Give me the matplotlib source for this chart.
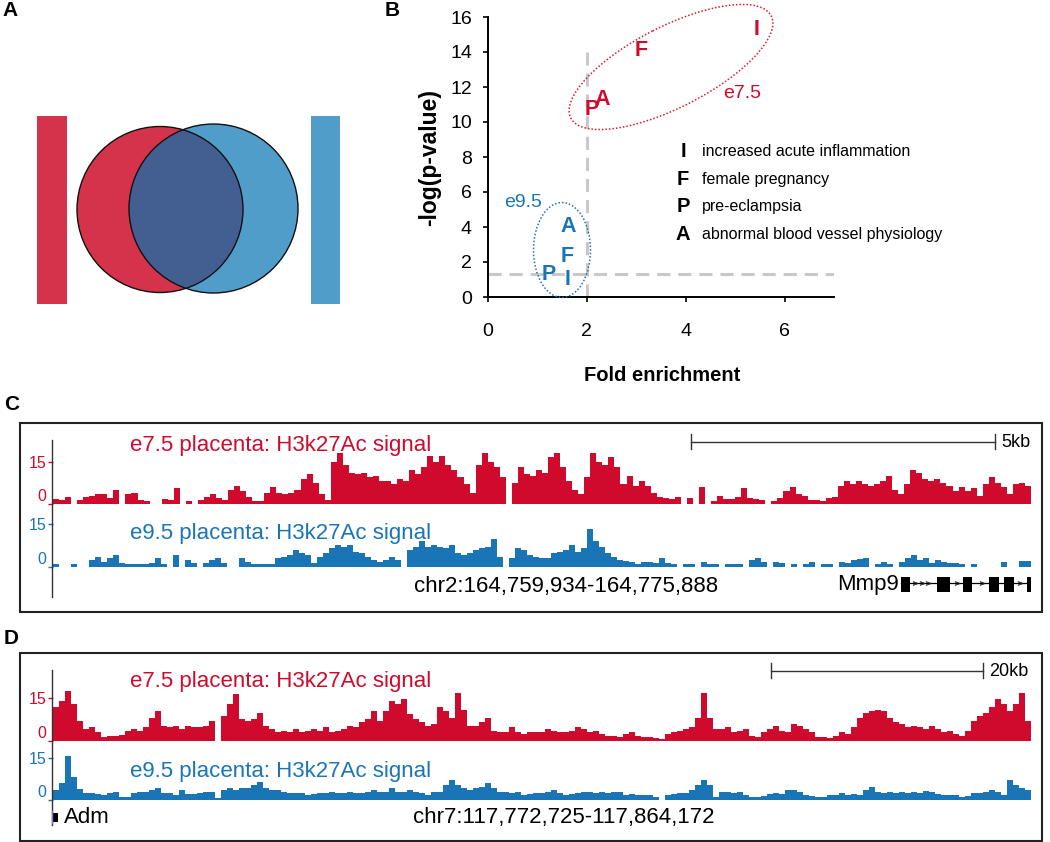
import numpy as np
import matplotlib
matplotlib.use('Agg')
import matplotlib.pyplot as plt
from matplotlib.patches import Circle, Rectangle, Ellipse

plt.rcParams['font.family'] = ['Liberation Sans', 'DejaVu Sans']

W, H = 1050, 842
RED = '#CF0A2C'
BLUE = '#1A75B6'
VENN_RED = '#D5334B'
VENN_BLUE = '#509DCA'
VENN_BOTH = '#435F92'

# ---- panel B: enrichment of phenotype terms ----
terms = ['I', 'F', 'P', 'A']
term_names = ['increased acute inflammation', 'female pregnancy',
              'pre-eclampsia', 'abnormal blood vessel physiology']
e75_fold = [5.43, 3.10, 2.10, 2.32]
e75_logp = [15.3, 14.1, 10.7, 11.3]
e95_fold = [1.60, 1.60, 1.22, 1.62]
e95_logp = [1.0, 2.3, 1.3, 4.0]
fold_cut = 2.0
logp_cut = 1.3

# ---- panels C/D: H3K27ac signal, 163 bins per window ----
c_region = 'chr2:164,759,934-164,775,888'
c_e75 = [1.8, 1.5, 2.6, 0, 1.5, 2.5, 3, 3.5, 3.5, 2,
         5, 0, 3.5, 4, 1.5, 1.2, 0, 0, 1.8, 1.5,
         5.5, 0, 1, 0, 1.5, 2.5, 3.5, 2, 1.5, 5,
         6.5, 4.5, 2.5, 1.2, 1.2, 4, 6, 4, 3.5, 4,
         5, 9, 10.5, 7.5, 3.5, 1.5, 15, 18, 14, 11,
         10.5, 11, 9.5, 10,
         8, 8, 7, 9, 8,
         12, 10.5, 13, 17, 15, 17, 14, 12, 9.5, 7,
         4, 14, 18, 15, 13, 9.5, 0, 7.5, 13, 10.5,
         10, 12, 11, 16.5, 18, 13, 8, 5, 3.5, 9.5,
         18, 15, 14, 16.5, 13, 7, 10, 6.5, 8,
         6.5, 4, 2.5, 2, 1.8, 2.5, 0, 2, 0,
         6, 0, 1.2, 3, 1.8, 1.8, 2.5, 5.5, 2.2, 1.8,
         1.5, 0, 1.2, 2.2, 4.5, 6, 3.5, 3, 1.4, 1.4,
         1.2, 2, 2.5, 6.5, 8, 7, 8, 7, 6.5, 7,
         8, 10, 5, 3.5, 7, 12, 11, 9, 8, 9,
         7.5, 6.5, 4.5, 6, 4.5, 5.5, 3, 7, 9.5, 7.5,
         6, 3.5, 7, 7.5, 6.5]
c_e95 = [1, 0, 0, 1, 0, 0, 2.4, 3.5, 1.8, 3,
         4, 1.2, 1, 1, 1, 1, 1.2, 3, 1, 0,
         4, 0, 2.5, 1.4, 0, 1.2, 2.4, 3, 1.2, 0,
         0, 3, 1.8, 1, 1, 1, 1, 3, 3.5, 4,
         6, 4.8, 4, 1.2, 3.5, 4.8, 6.5, 7.7, 7, 7.7,
         5.3, 4.8, 3.5, 2.4,
         1.8, 2.4, 3.5, 2.4, 0,
         6, 7, 9, 7, 7.7, 7, 6.5, 7.7, 4.8, 4,
         4.8, 6, 6.5, 7, 10, 3.5, 0, 3, 6.5, 6,
         4, 3.5, 3, 3, 4.8, 5.3, 6, 7.7, 5.3, 6.5,
         13.5, 9, 7, 4.8, 3.5, 2.4, 2, 1.8, 1, 1.8,
         1.8, 1.4, 3, 1.4, 1, 0, 1, 1, 0,
         1.8, 1, 1, 0, 1, 1, 1, 0, 2.4, 3,
         1.8, 0, 1.8, 1.2, 0, 1, 0, 1, 1.8, 0,
         1, 1, 0, 1.8, 1.4, 2.2, 2.6, 3, 0, 1,
         1.8, 1, 0, 1.8, 3, 4.2, 2.4, 3, 1.4, 2.4,
         1.8, 1.4, 1.4, 1, 0, 1, 0, 0, 0, 0,
         1.8, 0, 0, 2, 2]
c_gene = 'Mmp9'
c_exons = [(141.3, 1.5), (147.3, 2.2), (151.7, 1.4), (156.0, 1.6), (158.5, 1.7), (162.3, 0.7)]
c_chevrons = [143.7, 144.8, 145.9, 150.6, 154.8, 161.2]
c_scale = (106.3, 157.0, '5kb')

d_region = 'chr7:117,772,725-117,864,172'
d_e75 = [11.8, 14, 17.5, 13, 7, 4, 4.8, 3, 1.2, 1.8,
         1.8, 2, 3.5, 4, 3.5, 4.8, 8.2, 10.5, 5.3, 4.8,
         5.3, 4, 5.3, 4.8, 4.8, 5.3, 7, 0, 8.8, 13,
         16.5, 7.7, 7, 7.7, 10, 5.3, 4, 3, 3.5, 3,
         4, 3, 3.5, 4, 3.5, 4.8, 3, 3.5, 4, 5.3,
         4.8, 6.5, 7.7, 10.5,
         7, 10.5, 14, 13, 14.7,
         9.4, 7.7, 6.5, 5.3, 6, 11.8, 10.5, 8.2, 17, 11,
         5.3, 5.3, 6.5, 8.2, 3.5, 3, 3, 4.7, 3, 2.4,
         3, 3, 3, 4, 3.5, 3, 3, 3.5, 4.7, 4,
         3, 3.5, 2.4, 1.8, 1.8, 1.2, 2.4, 3, 1.8, 1.4,
         1.4, 1, 0.6, 2.4, 3, 3.5, 4, 4.7, 8.2,
         17, 8, 4, 4, 4.7, 3, 3.5, 4, 1.8, 1.2,
         3, 4, 5.3, 3.5, 3, 6, 5.3, 4, 3, 1.4,
         1.2, 1, 1.8, 3, 2.4, 4.7, 8.2, 10, 10.5, 11,
         10.5, 8.2, 6.5, 6, 4.7, 5.3, 4.7, 4, 5.3, 4,
         3, 3.5, 2.4, 1.8, 3.5, 7, 8.8, 10, 11.8, 14.7,
         13, 10.5, 13, 17, 7]
d_e95 = [3.5, 6, 15.5, 8.2, 4, 2.6, 2.4, 2.1, 1.8, 2.4,
         3, 1, 1.2, 2.4, 3, 3, 3.5, 4.1, 2.6, 2.4,
         1.8, 3.5, 2.1, 2.1, 2.6, 3, 3, 0.6, 3.5, 4.1,
         3.5, 4.1, 4.1, 5.3, 6.5, 4.1, 3.5, 3.5, 3, 2.4,
         2.6, 2.4, 1.8, 2.1, 2.6, 2.4, 3, 2.4, 2.6, 3,
         2.4, 2.6, 3, 3.5,
         3, 3, 4.1, 3, 3,
         3.5, 3, 2.4, 1.8, 3, 3, 5.3, 7, 5.3, 4.1,
         3.5, 4.1, 4.7, 6, 4.1, 3, 3, 2.6, 3, 1.8,
         2.1, 2.4, 2.4, 3, 3.5, 2.4, 1.8, 2.1, 2.6, 3,
         3, 2.4, 3, 2.6, 3, 3, 1.8, 2.1, 1.8, 1.8,
         1.8, 1, 0, 1.8, 2.1, 2.4, 2.4, 3.5, 5.3,
         7, 5.3, 1.2, 3, 3, 2.6, 3, 1.8, 1, 1.2,
         1.4, 2.1, 2.4, 2.1, 3.5, 3.5, 3, 1.8, 1.4, 1,
         1, 1.8, 1.8, 2.4, 1.8, 2.1, 1.8, 3.5, 4.7, 3,
         2.6, 3, 2.6, 3, 2.6, 3, 2.4, 3.3, 3, 2.1,
         1.8, 1.8, 1.8, 1.2, 1.4, 2.4, 2.6, 3, 3.5, 3,
         1.8, 7, 5.3, 4.1, 3.5]
d_gene = 'Adm'
d_exons = [(0.0, 0.8)]
d_scale = (119.6, 155.0, '20kb')

TX0, TX1 = 53, 1031
PXU = 2.82      # pixels per signal unit
YMAX = 18.5

fig = plt.figure(figsize=(W / 100, H / 100), dpi=100)


def px_box(x0, y0, x1, y1):
    return [x0 / W, 1 - y1 / H, (x1 - x0) / W, (y1 - y0) / H]


def add_track(y_base, vals, color):
    ax = fig.add_axes(px_box(TX0, y_base - YMAX * PXU, TX1, y_base))
    ax.patch.set_alpha(0)
    ax.bar(np.arange(len(vals)), vals, width=1.0, align='edge', color=color, linewidth=0)
    ax.set_xlim(0, len(vals))
    ax.set_ylim(0, YMAX)
    for s in ax.spines.values():
        s.set_visible(False)
    ax.set_xticks([])
    ax.set_yticks([0, 15])
    ax.set_yticklabels(['0', '15'])
    ax.tick_params(axis='y', colors=color, labelsize=11.5, length=3.5, width=1, pad=1)
    ax.get_yticklabels()[0].set_va('bottom')
    return ax


def add_gene(y0, y1, exons, name, chevrons=None, name_right=True):
    ax = fig.add_axes(px_box(TX0, y0, TX1, y1))
    ax.patch.set_alpha(0)
    ax.set_xlim(0, 163)
    ax.set_ylim(0, 1)
    ax.axis('off')
    if len(exons) > 1:
        ax.plot([exons[0][0], exons[-1][0] + exons[-1][1]], [0.55, 0.55], color='black', lw=0.9)
    ax.broken_barh(exons, (0, 1), facecolor='black')
    if chevrons:
        ax.plot(chevrons, [0.55] * len(chevrons), linestyle='none', marker=r'$>$',
                markersize=3.5, markeredgewidth=0.3, color='#222222')
    if name_right:
        ax.text(exons[0][0] - 0.3, 0.5, name, ha='right', va='center', fontsize=16)
    else:
        ax.text(exons[-1][0] + exons[-1][1] + 1.0, 0.5, name, ha='left', va='center', fontsize=16)
    return ax


# ---- panel B ----
axB = fig.add_axes(px_box(488, 17, 834, 297))
axB.patch.set_alpha(0)
axB.set_xlim(0, 7)
axB.set_ylim(0, 16)
axB.spines['top'].set_visible(False)
axB.spines['right'].set_visible(False)
axB.spines['left'].set_linewidth(1.4)
axB.spines['bottom'].set_linewidth(1.4)
axB.set_xticks([0, 2, 4, 6])
axB.set_yticks(np.arange(0, 17, 2))
axB.tick_params(axis='both', direction='out', length=3.6, width=1.2, labelsize=14)
axB.tick_params(axis='x', pad=15)
axB.tick_params(axis='y', pad=8)
axB.set_xlabel('Fold enrichment', fontsize=14.5, fontweight='bold', va='center')
axB.xaxis.set_label_coords(0.502, -0.279)
axB.set_ylabel('-log(p-value)', fontsize=16.5, fontweight='bold', va='center')
axB.yaxis.set_label_coords(-0.168, 0.5)

axB.plot([fold_cut, fold_cut], [0, 14], color='#C8C8C8', lw=2.2, dashes=(4.3, 2.6), zorder=1)
axB.plot([0, 7], [logp_cut, logp_cut], color='#C8C8C8', lw=2.2, dashes=(4.3, 2.6), zorder=1)

for t, fx, fy in zip(terms, e75_fold, e75_logp):
    axB.text(fx, fy, t, color=RED, fontsize=15.5, fontweight='bold', ha='center', va='center', zorder=3)
for t, fx, fy in zip(terms, e95_fold, e95_logp):
    axB.text(fx, fy, t, color=BLUE, fontsize=15.5, fontweight='bold', ha='center', va='center', zorder=3)

legend_rows = [8.3, 6.69, 5.16, 3.58]
for t, name, ly in zip(terms, term_names, legend_rows):
    axB.text(3.95, ly, t, fontsize=14.5, fontweight='bold', ha='center', va='center')
    axB.text(4.33, ly, name, fontsize=11.5, ha='left', va='center')

axB.text(5.15, 11.63, 'e7.5', color=RED, fontsize=14, ha='center', va='center')
axB.text(0.70, 5.41, 'e9.5', color=BLUE, fontsize=14, ha='center', va='center')

# ---- panels C and D tracks ----
add_track(504.0, c_e75, RED)
add_track(566.7, c_e95, BLUE)
add_gene(576.7, 591.7, c_exons, c_gene, chevrons=c_chevrons, name_right=True)

add_track(740.7, d_e75, RED)
add_track(800.0, d_e95, BLUE)
add_gene(813.0, 821.7, d_exons, d_gene, name_right=False)

# ---- overlay in pixel coordinates for annotation ----
ov = fig.add_axes([0, 0, 1, 1], zorder=10)
ov.set_xlim(0, W)
ov.set_ylim(H, 0)
ov.axis('off')

# panel letters
for lab, lx, ly in [('A', 10, 11), ('B', 392, 11), ('C', 12, 405), ('D', 11, 638)]:
    ov.text(lx, ly, lab, fontsize=15, fontweight='bold', ha='center', va='center')

# panel A: overlap diagram
ov.add_patch(Rectangle((36.7, 115.7), 30, 188.6, facecolor=VENN_RED, edgecolor='none'))
ov.add_patch(Rectangle((310.7, 115.7), 29.6, 188.6, facecolor=VENN_BLUE, edgecolor='none'))
c_red = Circle((160, 209.5), 83, facecolor=VENN_RED, edgecolor='none')
c_blue = Circle((213.5, 208.5), 84.5, facecolor=VENN_BLUE, edgecolor='none')
ov.add_patch(c_red)
ov.add_patch(c_blue)
both = Circle((160, 209.5), 83, facecolor=VENN_BOTH, edgecolor='none')
ov.add_patch(both)
both.set_clip_path(c_blue)
ov.add_patch(Circle((160, 209.5), 83, fill=False, edgecolor='#111111', lw=1))
ov.add_patch(Circle((213.5, 208.5), 84.5, fill=False, edgecolor='#111111', lw=1))

# panel B group ellipses
ov.add_patch(Ellipse((671, 67), 225, 81, angle=-27, fill=False, edgecolor='#E0192E',
                     lw=1.1, linestyle=(0, (1, 1.3))))
ov.add_patch(Ellipse((562, 250), 57, 95, fill=False, edgecolor=BLUE,
                     lw=1.1, linestyle=(0, (1, 1.3))))

# browser boxes
for top, bot in [(423.3, 611.7), (653.3, 840.7)]:
    ov.add_patch(Rectangle((20, top), 1021.7, bot - top, fill=False, edgecolor='#222222', lw=1.5))
ov.plot([51.7, 51.7], [440, 597], color='#333333', lw=1)
ov.plot([51.7, 51.7], [670, 825], color='#333333', lw=1)

# track titles
ov.text(281, 446, 'e7.5 placenta: H3k27Ac signal', color=RED, fontsize=16, ha='center', va='center')
ov.text(281, 533, 'e9.5 placenta: H3k27Ac signal', color=BLUE, fontsize=16, ha='center', va='center')
ov.text(281, 682, 'e7.5 placenta: H3k27Ac signal', color=RED, fontsize=16, ha='center', va='center')
ov.text(281, 771, 'e9.5 placenta: H3k27Ac signal', color=BLUE, fontsize=16, ha='center', va='center')

# coordinates
ov.text(566, 586.7, c_region, fontsize=16, ha='center', va='center')
ov.text(564, 818, d_region, fontsize=16, ha='center', va='center')

# scale bars
for (b0, b1, lab), yb in [(c_scale, 441.7), (d_scale, 670.7)]:
    x0 = TX0 + 6 * b0
    x1 = TX0 + 6 * b1
    ov.plot([x0, x1], [yb, yb], color='#333333', lw=1)
    ov.plot([x0, x0], [yb - 7.5, yb + 7.5], color='#333333', lw=1)
    ov.plot([x1, x1], [yb - 7.5, yb + 7.5], color='#333333', lw=1)
    ov.text(x1 + 6, yb + 0.5, lab, fontsize=13, ha='left', va='center')

ov.plot([52.3, 52.3], [811, 823], color='#8C6FD0', lw=1)

fig.savefig('out.png', dpi=100)
